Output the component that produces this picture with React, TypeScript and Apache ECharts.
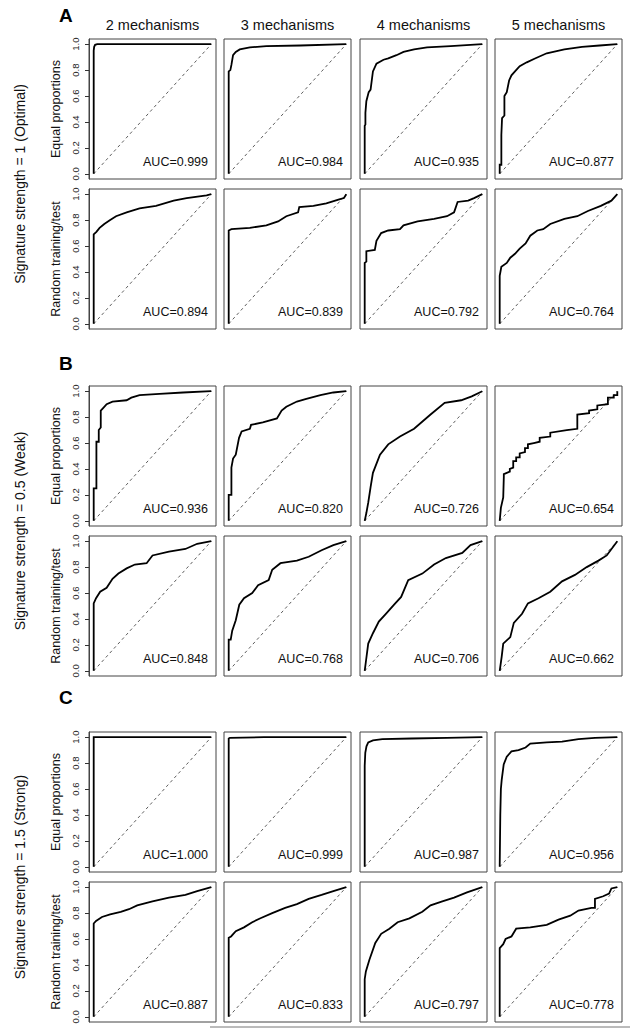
import React, { useEffect, useRef } from 'react';
import * as echarts from 'echarts';

const FONT = "'Liberation Sans', Arial, Helvetica, sans-serif";

const columnTitles = ['2 mechanisms', '3 mechanisms', '4 mechanisms', '5 mechanisms'];
const rowLabels = ['Equal proportions', 'Random training/test'];
const groupLetters = ['A', 'B', 'C'];
const groupLabels = [
  'Signature strength = 1 (Optimal)',
  'Signature strength = 0.5 (Weak)',
  'Signature strength = 1.5 (Strong)',
];
const yTicks = [0, 0.2, 0.4, 0.6, 0.8, 1];
const diagonal = [[0, 0], [1, 1]];

// AUC labels per row (A equal, A random, B equal, B random, C equal, C random)
const aucAEqual = ['0.999', '0.984', '0.935', '0.877'];
const aucARandom = ['0.894', '0.839', '0.792', '0.764'];
const aucBEqual = ['0.936', '0.820', '0.726', '0.654'];
const aucBRandom = ['0.848', '0.768', '0.706', '0.662'];
const aucCEqual = ['1.000', '0.999', '0.987', '0.956'];
const aucCRandom = ['0.887', '0.833', '0.797', '0.778'];

// ROC curves [false positive rate, true positive rate]
const rocAEq2 = [[0, 0], [0, 0.95], [0.004, 0.98], [0.012, 0.995], [0.03, 1], [1, 1]];
const rocAEq3 = [[0, 0], [0, 0.79], [0.014, 0.8], [0.023, 0.84], [0.037, 0.915], [0.06, 0.94], [0.094, 0.96], [0.18, 0.975], [0.32, 0.985], [0.61, 0.99], [1, 1]];
const rocAEq4 = [[0, 0], [0, 0.37], [0.006, 0.38], [0.006, 0.47], [0.014, 0.56], [0.034, 0.63], [0.05, 0.65], [0.07, 0.79], [0.1, 0.85], [0.16, 0.88], [0.2, 0.89], [0.27, 0.915], [0.33, 0.94], [0.42, 0.96], [0.53, 0.975], [0.73, 0.985], [1, 1]];
const rocAEq5 = [[0, 0], [0, 0.07], [0.014, 0.07], [0.014, 0.3], [0.02, 0.43], [0.04, 0.45], [0.04, 0.6], [0.06, 0.63], [0.08, 0.72], [0.1, 0.76], [0.13, 0.79], [0.17, 0.83], [0.23, 0.86], [0.3, 0.89], [0.4, 0.93], [0.55, 0.96], [0.7, 0.98], [0.85, 0.99], [1, 1]];

const rocARt2 = [[0, 0], [0, 0.69], [0.023, 0.71], [0.05, 0.74], [0.09, 0.77], [0.14, 0.8], [0.19, 0.83], [0.28, 0.86], [0.39, 0.89], [0.53, 0.91], [0.68, 0.95], [0.79, 0.97], [0.96, 0.99], [1, 1]];
const rocARt3 = [[0, 0], [0, 0.72], [0.023, 0.73], [0.18, 0.74], [0.32, 0.76], [0.42, 0.79], [0.49, 0.83], [0.59, 0.86], [0.6, 0.9], [0.72, 0.91], [0.83, 0.93], [0.94, 0.96], [0.98, 0.97], [1, 1]];
const rocARt4 = [[0, 0], [0, 0.47], [0.014, 0.48], [0.014, 0.56], [0.086, 0.57], [0.1, 0.64], [0.14, 0.7], [0.2, 0.72], [0.3, 0.73], [0.33, 0.76], [0.45, 0.79], [0.59, 0.81], [0.7, 0.83], [0.76, 0.86], [0.79, 0.94], [0.88, 0.95], [0.93, 0.97], [1, 1]];
const rocARt5 = [[0, 0], [0, 0.37], [0.014, 0.44], [0.06, 0.47], [0.09, 0.51], [0.13, 0.54], [0.17, 0.58], [0.22, 0.62], [0.26, 0.68], [0.32, 0.72], [0.37, 0.73], [0.43, 0.77], [0.55, 0.81], [0.66, 0.83], [0.75, 0.87], [0.86, 0.91], [0.95, 0.95], [1, 1]];

const rocBEq2 = [[0, 0], [0, 0.25], [0.023, 0.25], [0.023, 0.61], [0.043, 0.61], [0.043, 0.7], [0.06, 0.72], [0.06, 0.85], [0.08, 0.87], [0.11, 0.9], [0.16, 0.92], [0.28, 0.93], [0.32, 0.95], [0.39, 0.97], [0.56, 0.98], [0.76, 0.99], [1, 1]];
const rocBEq3 = [[0, 0], [0, 0.2], [0.023, 0.2], [0.023, 0.41], [0.037, 0.48], [0.06, 0.51], [0.088, 0.64], [0.11, 0.69], [0.18, 0.71], [0.19, 0.74], [0.29, 0.76], [0.41, 0.79], [0.45, 0.85], [0.49, 0.88], [0.58, 0.92], [0.66, 0.94], [0.78, 0.97], [0.89, 0.99], [1, 1]];
const rocBEq4 = [[0, 0], [0.014, 0.06], [0.03, 0.14], [0.05, 0.26], [0.07, 0.37], [0.13, 0.51], [0.2, 0.59], [0.3, 0.65], [0.42, 0.71], [0.56, 0.82], [0.68, 0.91], [0.82, 0.93], [0.91, 0.96], [1, 1]];
const rocBEq5 = [[0, 0], [0.01, 0.1], [0.03, 0.18], [0.035, 0.34], [0.035, 0.36], [0.086, 0.38], [0.086, 0.4], [0.115, 0.41], [0.115, 0.46], [0.14, 0.46], [0.14, 0.49], [0.17, 0.49], [0.17, 0.52], [0.215, 0.53], [0.215, 0.56], [0.24, 0.56], [0.24, 0.59], [0.29, 0.6], [0.34, 0.61], [0.34, 0.64], [0.43, 0.65], [0.43, 0.68], [0.57, 0.7], [0.66, 0.71], [0.66, 0.82], [0.76, 0.83], [0.76, 0.85], [0.83, 0.86], [0.83, 0.89], [0.92, 0.9], [0.92, 0.95], [0.97, 0.95], [0.97, 0.97], [1, 0.97], [1, 1]];

const rocBRt2 = [[0, 0], [0, 0.52], [0.02, 0.56], [0.055, 0.61], [0.11, 0.64], [0.16, 0.71], [0.21, 0.75], [0.28, 0.79], [0.35, 0.82], [0.45, 0.83], [0.5, 0.89], [0.64, 0.92], [0.78, 0.94], [0.88, 0.98], [1, 1]];
const rocBRt3 = [[0, 0], [0, 0.24], [0.017, 0.24], [0.03, 0.31], [0.06, 0.39], [0.09, 0.51], [0.13, 0.56], [0.2, 0.6], [0.25, 0.66], [0.34, 0.7], [0.37, 0.78], [0.44, 0.83], [0.58, 0.85], [0.68, 0.88], [0.79, 0.93], [0.89, 0.97], [1, 1]];
const rocBRt4 = [[0, 0], [0.01, 0.07], [0.03, 0.21], [0.07, 0.29], [0.12, 0.38], [0.18, 0.44], [0.25, 0.51], [0.31, 0.57], [0.37, 0.7], [0.49, 0.75], [0.59, 0.82], [0.69, 0.87], [0.83, 0.91], [0.9, 0.97], [1, 1]];
const rocBRt5 = [[0, 0], [0.017, 0.11], [0.03, 0.21], [0.09, 0.26], [0.12, 0.37], [0.19, 0.44], [0.24, 0.52], [0.33, 0.56], [0.43, 0.61], [0.53, 0.69], [0.64, 0.74], [0.74, 0.8], [0.84, 0.85], [0.91, 0.89], [1, 1]];

const rocCEq2 = [[0, 0], [0, 1], [1, 1]];
const rocCEq3 = [[0, 0], [0, 0.99], [0.01, 0.995], [0.3, 1], [1, 1]];
const rocCEq4 = [[0, 0], [0, 0.78], [0.005, 0.88], [0.015, 0.93], [0.03, 0.96], [0.07, 0.975], [0.15, 0.985], [0.4, 0.99], [0.7, 0.995], [1, 1]];
const rocCEq5 = [[0, 0], [0.005, 0.4], [0.01, 0.6], [0.017, 0.67], [0.034, 0.79], [0.06, 0.85], [0.1, 0.89], [0.16, 0.9], [0.22, 0.92], [0.26, 0.95], [0.4, 0.96], [0.53, 0.965], [0.67, 0.985], [0.81, 0.995], [1, 1]];

const rocCRt2 = [[0, 0], [0, 0.72], [0.02, 0.74], [0.07, 0.77], [0.14, 0.79], [0.23, 0.81], [0.3, 0.83], [0.37, 0.86], [0.5, 0.89], [0.64, 0.92], [0.78, 0.94], [0.88, 0.97], [1, 1]];
const rocCRt3 = [[0, 0], [0, 0.61], [0.02, 0.62], [0.06, 0.66], [0.13, 0.69], [0.2, 0.73], [0.27, 0.76], [0.37, 0.8], [0.48, 0.84], [0.58, 0.87], [0.68, 0.91], [0.79, 0.94], [0.89, 0.97], [1, 1]];
const rocCRt4 = [[0, 0], [0, 0.29], [0.01, 0.35], [0.04, 0.44], [0.09, 0.57], [0.14, 0.64], [0.21, 0.68], [0.28, 0.73], [0.38, 0.76], [0.49, 0.81], [0.56, 0.86], [0.66, 0.89], [0.76, 0.92], [0.87, 0.96], [1, 1]];
const rocCRt5 = [[0, 0], [0, 0.53], [0.03, 0.56], [0.05, 0.6], [0.1, 0.62], [0.14, 0.68], [0.26, 0.69], [0.4, 0.71], [0.5, 0.75], [0.6, 0.78], [0.67, 0.82], [0.78, 0.84], [0.81, 0.84], [0.81, 0.91], [0.88, 0.93], [0.93, 0.95], [0.95, 0.99], [1, 1]];

const curveRows = [
  [rocAEq2, rocAEq3, rocAEq4, rocAEq5],
  [rocARt2, rocARt3, rocARt4, rocARt5],
  [rocBEq2, rocBEq3, rocBEq4, rocBEq5],
  [rocBRt2, rocBRt3, rocBRt4, rocBRt5],
  [rocCEq2, rocCEq3, rocCEq4, rocCEq5],
  [rocCRt2, rocCRt3, rocCRt4, rocCRt5],
];
const aucRows = [aucAEqual, aucARandom, aucBEqual, aucBRandom, aucCEqual, aucCRandom];

// layout
const COL_LEFT = [89, 224, 360, 495];
const ROW_TOP = [39, 189, 386, 536, 732, 882];
const W = 127;
const H = 140;
const LETTER_Y = [15, 363, 697];

export default function App() {
  const ref = useRef<HTMLDivElement>(null);
  useEffect(() => {
    if (!ref.current) return;
    const chart = echarts.init(ref.current, undefined, { renderer: 'svg' });
    const grids: any[] = [];
    const xAxes: any[] = [];
    const yAxes: any[] = [];
    const series: any[] = [];
    const graphics: any[] = [];
    let idx = 0;
    for (let r = 0; r < 6; r++) {
      for (let c = 0; c < 4; c++) {
        const left = COL_LEFT[c];
        const top = ROW_TOP[r];
        grids.push({
          left, top, width: W, height: H, show: true,
          borderColor: '#444', borderWidth: 1, backgroundColor: 'transparent',
          containLabel: false, outerBoundsMode: 'none',
        });
        xAxes.push({ gridIndex: idx, type: 'value', min: -0.04, max: 1.04, show: false });
        yAxes.push({
          gridIndex: idx, type: 'value', min: -0.04, max: 1.04,
          splitLine: { show: false },
          axisLine: { show: c === 0, onZero: false, lineStyle: { color: '#444', width: 1 } },
          axisTick: { show: c === 0, length: 4, customValues: yTicks, lineStyle: { color: '#333', width: 1 } },
          axisLabel: {
            show: c === 0, customValues: yTicks, rotate: 90, margin: 9,
            fontSize: 9.5, color: '#222', fontFamily: FONT,
            formatter: (v: number) => v.toFixed(1),
          },
          name: c === 0 ? rowLabels[r % 2] : '',
          nameLocation: 'middle', nameRotate: 90, nameGap: 27,
          nameTextStyle: { fontSize: 12.5, color: '#111', fontFamily: FONT },
        });
        series.push({
          type: 'line', xAxisIndex: idx, yAxisIndex: idx, data: diagonal,
          symbol: 'none', silent: true,
          lineStyle: { color: '#333', width: 0.8, type: [3, 3] },
        });
        series.push({
          type: 'line', xAxisIndex: idx, yAxisIndex: idx, data: curveRows[r][c],
          symbol: 'none', silent: true,
          lineStyle: { color: '#000', width: 1.8, join: 'miter' },
        });
        graphics.push({
          type: 'text', x: left + W - 8, y: top + 123,
          style: {
            text: 'AUC=' + aucRows[r][c], fill: '#111', fontSize: 12.5, fontFamily: FONT,
            textAlign: 'right', textVerticalAlign: 'middle',
          },
        });
        idx++;
      }
    }
    columnTitles.forEach((t, c) => {
      graphics.push({
        type: 'text', x: COL_LEFT[c] + W / 2, y: 25,
        style: { text: t, fill: '#111', fontSize: 14.5, fontFamily: FONT, textAlign: 'center', textVerticalAlign: 'middle' },
      });
    });
    groupLetters.forEach((t, g) => {
      graphics.push({
        type: 'text', x: 59, y: LETTER_Y[g],
        style: { text: t, fill: '#000', fontSize: 19, fontWeight: 'bold', fontFamily: FONT, textAlign: 'left', textVerticalAlign: 'middle' },
      });
      const cy = (ROW_TOP[g * 2] + ROW_TOP[g * 2 + 1] + H) / 2;
      graphics.push({
        type: 'text', x: 20, y: cy, rotation: Math.PI / 2,
        style: { text: groupLabels[g], fill: '#111', fontSize: 14, fontFamily: FONT, textAlign: 'center', textVerticalAlign: 'middle' },
      });
    });
    graphics.push({
      type: 'line', shape: { x1: 210, y1: 1027, x2: 630, y2: 1027 },
      style: { stroke: '#777', lineWidth: 1 },
    });
    chart.setOption({
      animation: false,
      backgroundColor: '#fff',
      grid: grids,
      xAxis: xAxes,
      yAxis: yAxes,
      series,
      graphic: graphics,
    });
    return () => chart.dispose();
  }, []);
  return <div ref={ref} style={{ position: 'absolute', left: 0, top: 0, width: 630, height: 1032 }} />;
}
